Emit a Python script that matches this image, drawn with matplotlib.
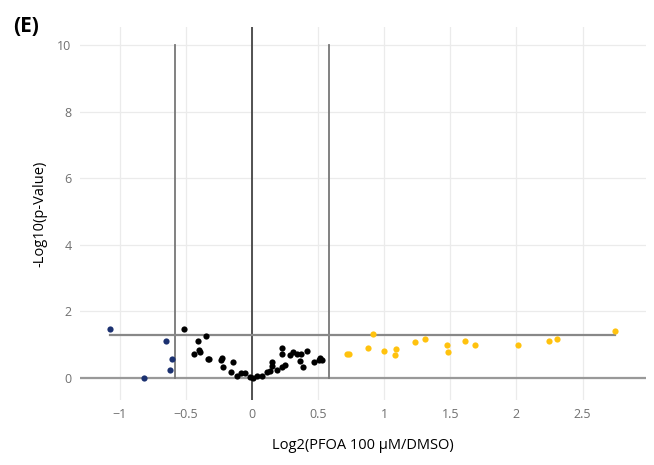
import matplotlib.pyplot as plt

# log2 fold change / -log10 p
down_x = [-1.076, -0.649, -0.606, -0.621, -0.818]
down_y = [1.46, 1.11, 0.56, 0.24, 0.01]

ns_x = [-0.515, -0.346, -0.407, -0.399, -0.392, -0.437, -0.331, -0.325, -0.227, -0.237,
        -0.146, -0.215, -0.159, -0.116, -0.083, -0.053, -0.015, 0.010, 0.035, 0.073,
        0.111, 0.136, 0.152, 0.154, 0.192, 0.225, 0.253, 0.227, 0.230, 0.288,
        0.308, 0.338, 0.371, 0.364, 0.389, 0.414, 0.470, 0.515, 0.533, 0.505]
ns_y = [1.46, 1.26, 1.12, 0.84, 0.78, 0.71, 0.56, 0.58, 0.61, 0.54,
        0.49, 0.33, 0.18, 0.06, 0.16, 0.14, 0.02, 0.01, 0.06, 0.06,
        0.19, 0.21, 0.36, 0.49, 0.24, 0.34, 0.39, 0.72, 0.91, 0.69,
        0.79, 0.72, 0.72, 0.51, 0.34, 0.81, 0.49, 0.61, 0.54, 0.53]

up_x = [0.722, 0.735, 0.914, 0.879, 0.995, 1.093, 1.083, 1.23, 1.31, 1.475,
        1.48, 1.61, 1.69, 2.01, 2.245, 2.31, 2.745]
up_y = [0.73, 0.72, 1.32, 0.89, 0.80, 0.88, 0.69, 1.07, 1.18, 0.99,
        0.77, 1.10, 0.98, 1.00, 1.10, 1.16, 1.42]

xticks = [-1, -0.5, 0, 0.5, 1, 1.5, 2, 2.5]
xtick_labels = ['\u22121', '\u22120.5', '0', '0.5', '1', '1.5', '2', '2.5']
yticks = [0, 2, 4, 6, 8, 10]
fc_cut = 0.585
p_cut = 1.301

plt.rcParams['font.family'] = ['Open Sans', 'DejaVu Sans']

fig = plt.figure(figsize=(6.54, 4.65), dpi=100)
ax = fig.add_axes([0.1223, 0.1398, 0.8655, 0.8022])
ax.set_xlim(-1.30, 2.98)
ax.set_ylim(-0.66, 10.54)

ax.set_xticks(xticks)
ax.set_xticklabels(xtick_labels)
ax.set_yticks(yticks)
ax.grid(True, color='#ebebeb', lw=0.9)
ax.set_axisbelow(True)
for s in ax.spines.values():
    s.set_visible(False)
ax.tick_params(length=0, colors='#707070', labelsize=9, pad=6)

# zero lines
ax.axvline(0, color='#444444', lw=1.3, zorder=1)
ax.axhline(0, color='#999999', lw=1.6, zorder=1)
# thresholds
ax.plot([-fc_cut, -fc_cut], [0, 10], color='#777777', lw=1.3, zorder=1)
ax.plot([fc_cut, fc_cut], [0, 10], color='#777777', lw=1.3, zorder=1)
allx = down_x + ns_x + up_x
ax.plot([min(allx), max(allx)], [p_cut, p_cut], color='#888888', lw=1.6, zorder=1)

ax.scatter(down_x, down_y, s=20, color='#1b3170', zorder=3, linewidths=0)
ax.scatter(ns_x, ns_y, s=20, color='black', zorder=3, linewidths=0)
ax.scatter(up_x, up_y, s=20, color='#ffc20e', zorder=3, linewidths=0)

ax.set_xlabel('Log2(PFOA 100 \u03bcM/DMSO)', fontsize=10.5, va='center')
ax.xaxis.set_label_coords(0.5, -0.123)
ax.set_ylabel('-Log10(p-Value)', fontsize=10.5, va='center')
ax.yaxis.set_label_coords(-0.0707, 0.5)

fig.text(0.02, 0.944, '(E)', fontsize=15, fontweight='bold', va='center')

fig.savefig('out.png', dpi=100)
